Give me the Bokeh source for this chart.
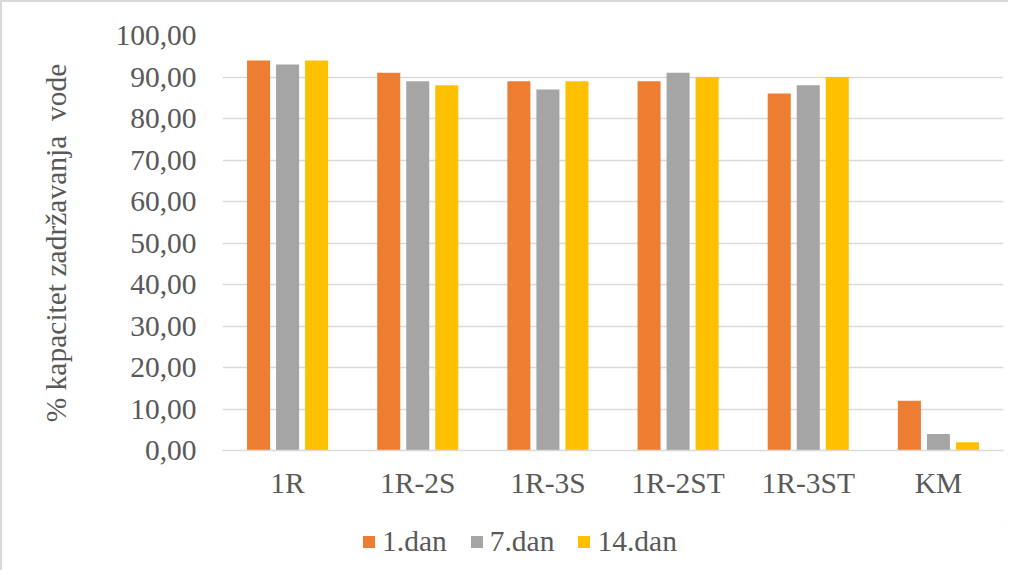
from bokeh.plotting import figure
from bokeh.layouts import column
from bokeh.models import FactorRange, FixedTicker, Legend, LegendItem, ColumnDataSource, Range1d
from bokeh.transform import dodge
from bokeh.embed import file_html
from bokeh.resources import INLINE

categories = ["1R", "1R-2S", "1R-3S", "1R-2ST", "1R-3ST", "KM"]
dan1 = [94, 91, 89, 89, 86, 12]
dan7 = [93, 89, 87, 91, 88, 4]
dan14 = [94, 88, 89, 90, 90, 2]
series_names = ["1.dan", "7.dan", "14.dan"]
y_ticks = [0, 10, 20, 30, 40, 50, 60, 70, 80, 90, 100]
y_label = "% kapacitet zadržavanja\u00a0 vode"

colors = ["#ED7D31", "#A5A5A5", "#FFC000"]
FONT = "Liberation Serif"
TXT = "#595959"
GRID = "#D9D9D9"
FS = "29.5px"

source = ColumnDataSource(dict(cat=categories, d1=dan1, d7=dan7, d14=dan14))

p = figure(x_range=FactorRange(factors=categories, range_padding=0),
           y_range=Range1d(0, 100),
           frame_width=781, frame_height=415, output_backend="svg", toolbar_location=None,
           min_border_left=220, min_border_right=5, min_border_top=33, min_border_bottom=70)
p.outline_line_color = None

offsets = [-0.223, 0.0, 0.223]
cols = ["d1", "d7", "d14"]
for col, off, c in zip(cols, offsets, colors):
    p.vbar(x=dodge("cat", off, range=p.x_range), top=col, width=0.177, source=source,
           fill_color=c, line_color=None)

p.yaxis.ticker = FixedTicker(ticks=y_ticks)
p.yaxis.major_label_overrides = {t: f"{t:.2f}".replace(".", ",") for t in y_ticks}
for ax in (p.xaxis[0], p.yaxis[0]):
    ax.major_label_text_font = FONT
    ax.major_label_text_font_size = FS
    ax.major_label_text_color = TXT
    ax.major_tick_line_color = None
    ax.minor_tick_line_color = None
p.yaxis.axis_line_color = None
p.xaxis.axis_line_color = GRID
p.xaxis.axis_line_width = 1.5
p.yaxis.major_label_standoff = 20
p.xaxis.major_label_standoff = 10
p.yaxis.axis_label = y_label
p.yaxis.axis_label_text_font = FONT
p.yaxis.axis_label_text_font_size = FS
p.yaxis.axis_label_text_font_style = "normal"
p.yaxis.axis_label_text_color = TXT
p.yaxis.axis_label_standoff = 40

p.xgrid.grid_line_color = None
p.ygrid.grid_line_color = GRID
p.ygrid.grid_line_width = 1.5
p.ygrid.ticker = FixedTicker(ticks=y_ticks)

# legend strip below the chart (swatch glyphs sit outside the strip's visible range)
p2 = figure(width=1006, height=50, output_backend="svg", toolbar_location=None,
            x_axis_type=None, y_axis_type=None, min_border=0,
            x_range=Range1d(0, 1), y_range=Range1d(0, 1))
p2.outline_line_color = None
swatch_src = ColumnDataSource(dict(x=[5], top=[5]))
leg_renderers = [p2.vbar(x="x", top="top", bottom=4, width=0.1, source=swatch_src,
                         fill_color=c, line_color=None)
                 for c in colors]
legend = Legend(items=[LegendItem(label=n, renderers=[r]) for n, r in zip(series_names, leg_renderers)],
                orientation="horizontal", location=(139, 12),
                label_text_font=FONT, label_text_font_size=FS, label_text_color=TXT,
                label_height=30, glyph_width=15, glyph_height=15, label_standoff=6, spacing=22,
                border_line_color=None, background_fill_alpha=0, margin=0, padding=0)
p2.add_layout(legend, "center")

layout = column(p, p2, spacing=0,
                styles={"border-left": "2px solid #d9d9d9", "border-top": "2px solid #d9d9d9"})

open("out.html", "w").write(file_html(layout, INLINE))
